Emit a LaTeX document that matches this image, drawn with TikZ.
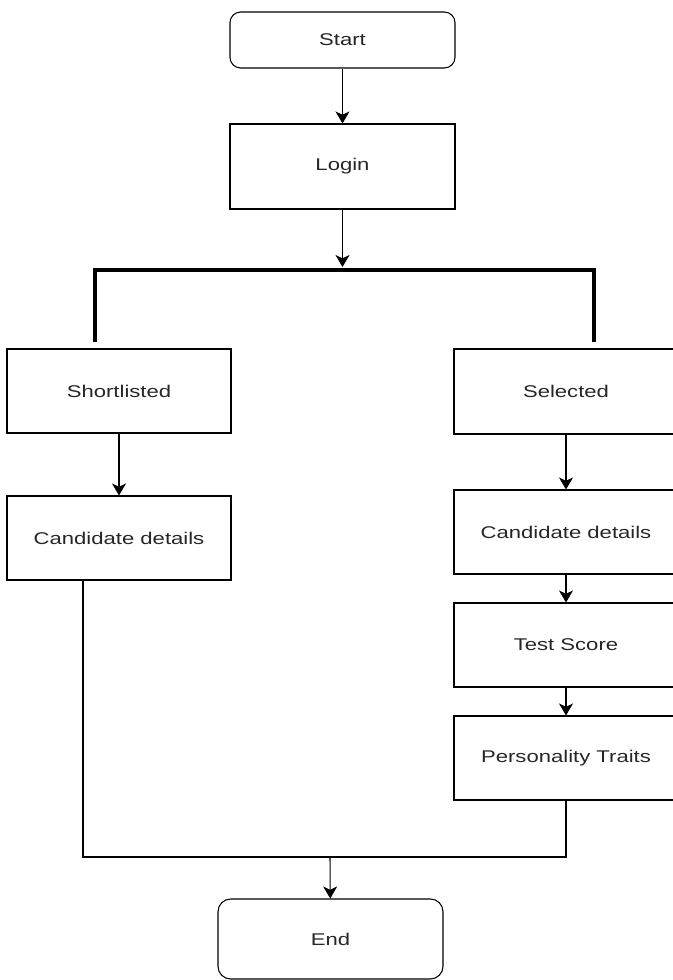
\documentclass[tikz,border=0pt]{standalone}
\usepackage{fontspec}
\setmainfont[FakeStretch=1.3]{Liberation Sans}
\usepackage{tikz}
\usetikzlibrary{arrows.meta}

\tikzset{
	flowbox/.style = {draw, line width=0.9pt, minimum width=6.72cm, minimum height=2.52cm, font=\fontsize{14.5}{17}\selectfont, text=black!85},
	termbox/.style = {flowbox, rounded corners=0.32cm},
	arr/.style = {line width=0.9pt, -{Stealth[length=3.6mm, width=4.2mm, inset=1mm]}},
	bus/.style = {line width=2.6pt}
}

\begin{document}
\begin{tikzpicture}[x=0.03cm, y=-0.03cm]
\useasboundingbox (0,0) rectangle (673,980);
\clip (0,0) rectangle (673,980);

\node[termbox, minimum width=6.75cm, minimum height=1.68cm] (start) at (342.5,40) {Start};
\node[flowbox, minimum width=6.75cm, minimum height=2.55cm] (login) at (342.5,166.5) {Login};

\node[flowbox] (short) at (119,391) {Shortlisted};
\node[flowbox] (candL) at (119,538) {Candidate details};

\node[flowbox, minimum height=2.55cm] (sel) at (566,391.5) {Selected};
\node[flowbox] (candR) at (566,532) {Candidate details};
\node[flowbox] (test) at (566,645) {Test Score};
\node[flowbox] (pers) at (566,758) {Personality Traits};

\node[termbox, minimum width=6.75cm, minimum height=2.4cm, rounded corners=0.38cm] (end) at (330.5,939) {End};

% split after login
\coordinate (barM) at (342.5,267);
\coordinate (barL) at (95,270);
\coordinate (barR) at (594,270);
\coordinate (legL) at (95,342);
\coordinate (legR) at (594,342);
\draw[arr] (start) -- (login);
\draw[arr] (login) -- (barM);
\draw[bus] (legL) -- (barL) -- (barR) -- (legR);

\draw[arr] (short) -- (candL);
\foreach \a/\b in {sel/candR, candR/test, test/pers}
	\draw[arr] (\a) -- (\b);

% join before end
\coordinate (joinL) at (83,857);
\coordinate (joinR) at (566,857);
\coordinate (joinM) at (330,857);
\draw[line width=0.9pt] (candL.south -| joinL) -- (joinL) -- (joinR) -- (pers.south);
\draw[arr] (joinM) -- (end);
\end{tikzpicture}
\end{document}
